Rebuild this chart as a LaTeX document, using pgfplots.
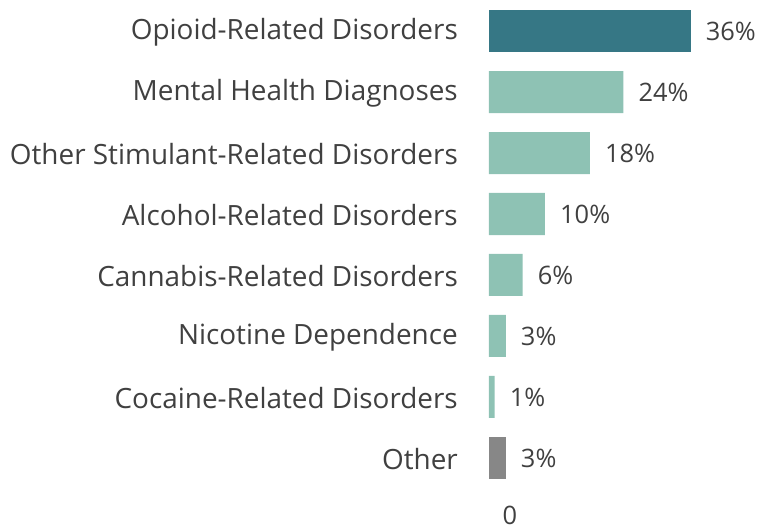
\documentclass[border=0pt]{standalone}
\usepackage{pgfplots}
\pgfplotsset{compat=1.18}
\usepackage{fontspec}
\setmainfont{Open Sans}
\definecolor{darkteal}{HTML}{367785}
\definecolor{lightteal}{HTML}{8EC2B4}
\definecolor{othergray}{HTML}{878787}
\definecolor{txt}{HTML}{404040}
\newcommand{\catfont}{\fontsize{28}{32}\selectfont}
\newcommand{\valfont}{\fontsize{25.5}{30}\selectfont}
\begin{document}
\begin{tikzpicture}
\begin{axis}[
    scale only axis,
    width=271bp, height=488bp,
    xmin=0, xmax=48.39,
    ymin=-0.5, ymax=7.5,
    y dir=reverse,
    xbar, bar width=42bp, bar shift=0pt,
    axis line style={draw=none},
    major tick length=0pt,
    ytick={0,...,7},
    yticklabels={Opioid-Related Disorders, Mental Health Diagnoses,
      Other Stimulant-Related Disorders, Alcohol-Related Disorders,
      Cannabis-Related Disorders, Nicotine Dependence,
      Cocaine-Related Disorders, Other},
    yticklabel style={anchor=east, inner sep=0pt, xshift=-31bp, yshift=-1bp, font=\catfont, text=txt},
    xtick={0},
    xticklabel style={anchor=center, xshift=21bp, yshift=-26.5bp, font=\valfont, text=txt},
    /pgf/number format/assume math mode=true,
    nodes near coords={\pgfmathprintnumber{\pgfplotspointmeta}\%},
    nodes near coords style={anchor=west, inner sep=0pt, xshift=15bp, font=\valfont, text=txt},
  ]
  \addplot[draw=none, fill=darkteal] coordinates {(36,0)};
  \addplot[draw=none, fill=lightteal] coordinates {(24,1) (18,2) (10,3) (6,4) (3,5) (1,6)};
  \addplot[draw=none, fill=othergray] coordinates {(3,7)};
\end{axis}
\pgfresetboundingbox
\path[use as bounding box] ([xshift=-489bp, yshift=-41.5bp]current axis.south west) rectangle ([yshift=0.5bp]current axis.north east);
\end{tikzpicture}
\end{document}
